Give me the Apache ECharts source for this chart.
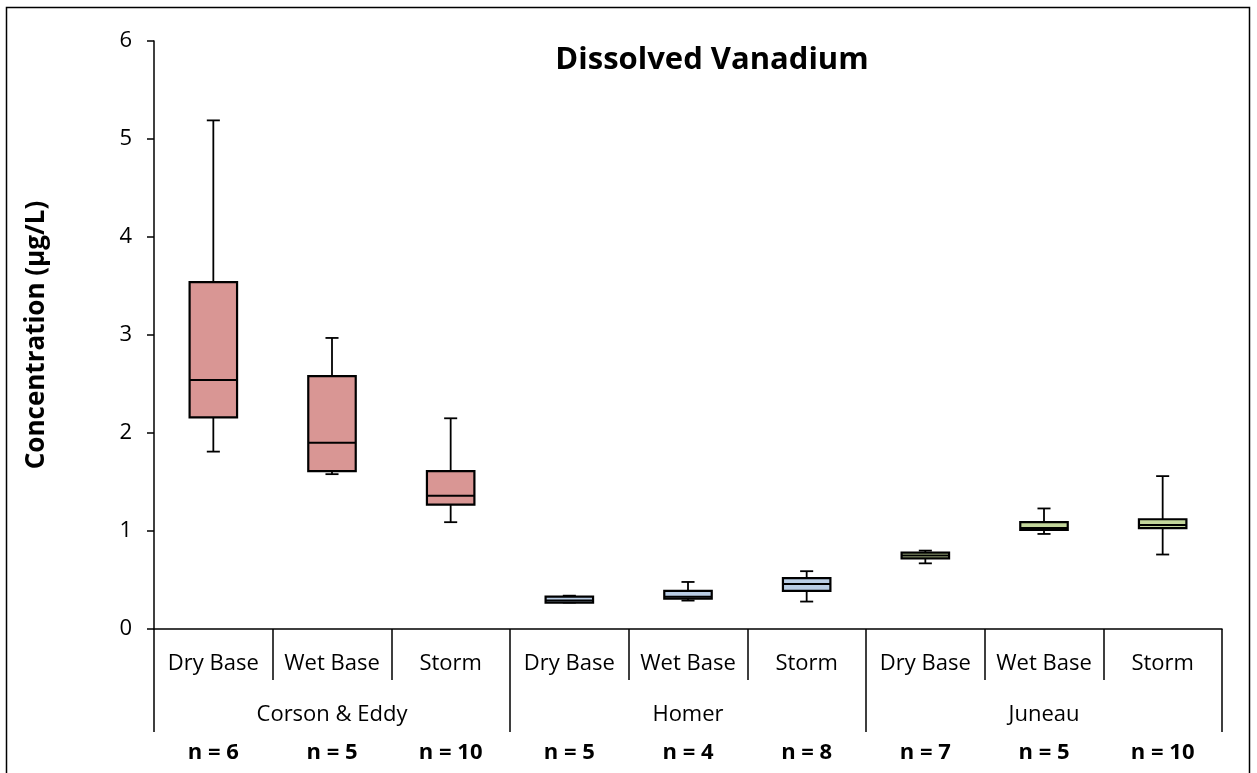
<!DOCTYPE html>
<html>
<head>
<meta charset="utf-8">
<script src="https://cdn.jsdelivr.net/npm/echarts@6/dist/echarts.min.js"></script>
<style>
html,body{margin:0;padding:0;background:#fff;}
#c{width:1257px;height:773px;}
</style>
</head>
<body>
<div id="c"></div>
<script>
// ---- data ----
const categories = ['Dry Base','Wet Base','Storm','Dry Base','Wet Base','Storm','Dry Base','Wet Base','Storm'];
const groups = ['Corson & Eddy','Homer','Juneau'];
const counts = ['n = 6','n = 5','n = 10','n = 5','n = 4','n = 8','n = 7','n = 5','n = 10'];
// [min, Q1, median, Q3, max]
const corsonEddy = [[1.81,2.16,2.54,3.54,5.19],[1.58,1.61,1.90,2.58,2.97],[1.09,1.27,1.36,1.61,2.15]];
const homer      = [[0.27,0.27,0.29,0.33,0.34],[0.29,0.31,0.33,0.39,0.48],[0.28,0.39,0.46,0.52,0.59]];
const juneau     = [[0.67,0.72,0.75,0.78,0.80],[0.97,1.01,1.03,1.09,1.23],[0.76,1.03,1.06,1.12,1.56]];
const yTicks = [0,1,2,3,4,5,6];

const groupData = [corsonEddy, homer, juneau];
const groupFill = ['#D99694','#B9CDE5','#C3D69B'];
const seriesData = [];
groupData.forEach((g, gi) => g.forEach((v, i) => seriesData.push([gi*3+i].concat(v).concat([gi]))));

const FONT = 'Open Sans';
const chart = echarts.init(document.getElementById('c'));
chart.setOption({
  animation:false,
  backgroundColor:'#fff',
  title:{
    text:'Dissolved Vanadium', left:707, top:40, textAlign:'center',
    textStyle:{fontFamily:FONT,fontSize:31,fontWeight:'bold',color:'#000'}
  },
  graphic:[{type:'rect',shape:{x:6.5,y:7.5,width:1243,height:800},style:{fill:'none',stroke:'#000',lineWidth:1.5},silent:true}],
  grid:{left:154,right:35,top:41,bottom:144},
  xAxis:[
    {type:'category',data:categories,position:'bottom',
     axisLine:{lineStyle:{color:'#000',width:1.5}},
     axisTick:{show:true,interval:0,length:51,lineStyle:{color:'#000',width:1.5}},
     axisLabel:{interval:0,margin:24,fontFamily:FONT,fontSize:22,color:'#000'}},
    {type:'category',data:groups,position:'bottom',
     axisLine:{show:false},
     axisTick:{show:true,interval:0,length:103,lineStyle:{color:'#000',width:1.5}},
     axisLabel:{interval:0,margin:75,fontFamily:FONT,fontSize:22,color:'#000'}},
    {type:'category',data:counts,position:'bottom',
     axisLine:{show:false},axisTick:{show:false},
     axisLabel:{interval:0,margin:113,fontFamily:FONT,fontSize:22,fontWeight:'bold',color:'#000'}}
  ],
  yAxis:{
    type:'value',min:yTicks[0],max:yTicks[yTicks.length-1],interval:1,
    name:'Concentration (µg/L)',nameLocation:'middle',nameRotate:90,nameGap:104,
    nameTextStyle:{fontFamily:FONT,fontSize:26,fontWeight:'bold',color:'#000'},
    axisLine:{show:true,lineStyle:{color:'#000',width:1.5}},
    axisTick:{show:true,length:7,lineStyle:{color:'#000',width:1.5}},
    axisLabel:{margin:22,fontFamily:FONT,fontSize:22,color:'#000'},
    splitLine:{show:false}
  },
  series:[{
    type:'custom',
    xAxisIndex:0,
    data:seriesData,
    encode:{x:0,y:[1,2,3,4,5]},
    renderItem:function(params, api){
      const x = api.value(0);
      const gi = api.value(6);
      const pMin = api.coord([x, api.value(1)]);
      const pQ1 = api.coord([x, api.value(2)]);
      const pMed = api.coord([x, api.value(3)]);
      const pQ3 = api.coord([x, api.value(4)]);
      const pMax = api.coord([x, api.value(5)]);
      const band = api.size([1,0])[0];
      const bw = band*0.4, cw = band*0.11;
      const cx = pMed[0];
      const ls = {stroke:'#000',lineWidth:1.8};
      return {type:'group',children:[
        {type:'line',shape:{x1:cx,y1:pMax[1],x2:cx,y2:pQ3[1]},style:ls},
        {type:'line',shape:{x1:cx,y1:pQ1[1],x2:cx,y2:pMin[1]},style:ls},
        {type:'line',shape:{x1:cx-cw/2,y1:pMax[1],x2:cx+cw/2,y2:pMax[1]},style:ls},
        {type:'line',shape:{x1:cx-cw/2,y1:pMin[1],x2:cx+cw/2,y2:pMin[1]},style:ls},
        {type:'rect',shape:{x:cx-bw/2,y:pQ3[1],width:bw,height:pQ1[1]-pQ3[1]},
          style:{fill:groupFill[gi],stroke:'#000',lineWidth:2.2}},
        {type:'line',shape:{x1:cx-bw/2,y1:pMed[1],x2:cx+bw/2,y2:pMed[1]},style:{stroke:'#000',lineWidth:2}}
      ]};
    }
  }]
});
</script>
</body>
</html>
